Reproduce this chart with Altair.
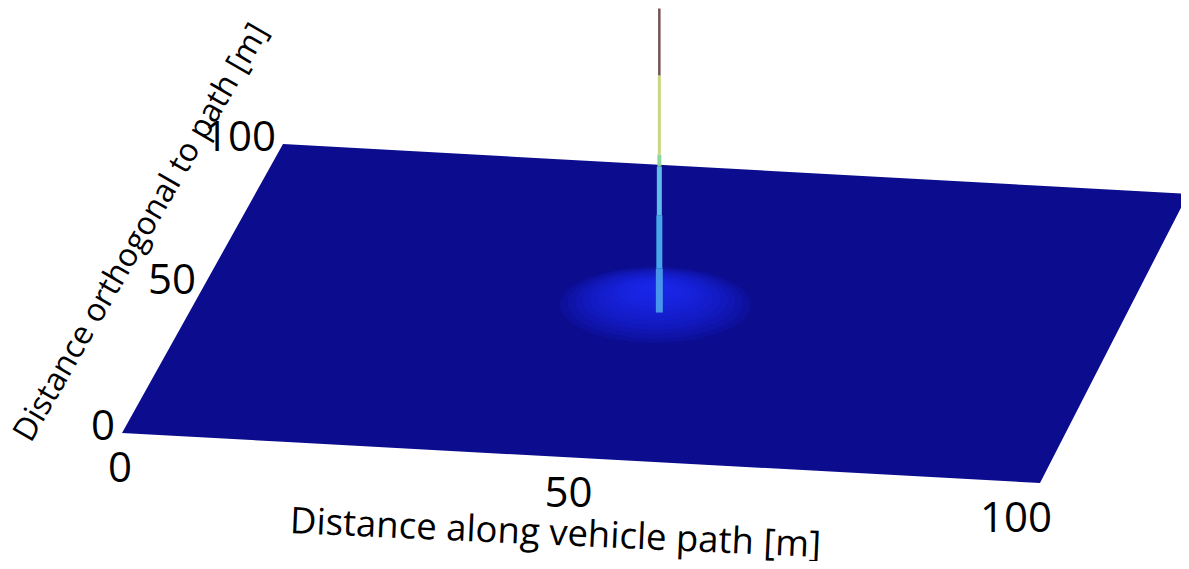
import numpy as np
import pandas as pd
import altair as alt

# ---- data -------------------------------------------------------------
# ground grid extent [m] (u: along vehicle path, v: orthogonal to path)
u_ticks = [0, 50, 100]
v_ticks = [0, 50, 100]
u_tick_labels = ["0", "50", "100"]
v_tick_labels = ["0", "50", "100"]
x_title = "Distance along vehicle path [m]"
y_title = "Distance orthogonal to path [m]"

# peak location on the ground plane [m]
peak_u = 50
peak_v = 50
# normalised height levels along the spike and colour of each band
spike_z = [0.0, 0.145, 0.32, 0.48, 0.52, 0.78, 1.0]
spike_band_colors = ["#4a9cec", "#4cb0f0", "#62c8ee", "#8ad49a", "#c6d47a", "#6e4a4a"]

# diffuse raised region around the peak: contour height and width [px]
glow_level = [0.025, 0.03, 0.035, 0.04, 0.045, 0.05, 0.055, 0.06, 0.065, 0.07, 0.075, 0.08]
glow_width = [190, 175, 160, 145, 130, 115, 100, 86, 72, 58, 44, 30]

# ---- camera (perspective view of the plane) ---------------------------
cam_u = [0, 100, 0, 100]
cam_v = [0, 0, 100, 100]
cam_px = [122, 1040, 283, 1188]
cam_py = [433, 483, 144, 194]
z_pixels = 304  # screen height of a unit of normalised z

A, b = [], []
for u, v, Xp, Yp in zip(cam_u, cam_v, cam_px, cam_py):
    A.append([u, v, 1, 0, 0, 0, -u * Xp, -v * Xp]); b.append(Xp)
    A.append([0, 0, 0, u, v, 1, -u * Yp, -v * Yp]); b.append(Yp)
h = np.linalg.solve(np.array(A, float), np.array(b, float))


def project(u, v, z=0.0):
    d = h[6] * u + h[7] * v + 1
    return (h[0] * u + h[1] * v + h[2]) / d, (h[3] * u + h[4] * v + h[5]) / d - z * z_pixels


# ---- plane as an area between its upper and lower outline ------------
p00, p10, p01, p11 = project(0, 0), project(100, 0), project(0, 100), project(100, 100)


def line_y(pa, pb, x):
    return pa[1] + (pb[1] - pa[1]) * (x - pa[0]) / (pb[0] - pa[0])


xs = sorted([p00[0], p01[0], p10[0], p11[0]])
rows = []
for x in xs:
    top = line_y(p00, p01, x) if x <= p01[0] else line_y(p01, p11, x)
    bot = line_y(p00, p10, x) if x <= p10[0] else line_y(p10, p11, x)
    rows.append({"px": x, "top": top, "bot": bot})
plane_df = pd.DataFrame(rows)

X = alt.X("px:Q", scale=alt.Scale(domain=[8, 1181], nice=False, zero=False), axis=None)
Yscale = alt.Scale(domain=[8, 561], reverse=True, nice=False, zero=False)

plane = alt.Chart(plane_df).mark_area(color="#0b0c8e", clip=True).encode(
    x=X, y=alt.Y("top:Q", scale=Yscale, axis=None), y2="bot:Q"
)

# ---- glow ellipses ----------------------------------------------------
theta = np.linspace(0, 2 * np.pi, 64, endpoint=False)
ell_path = "M" + " L".join(f"{np.cos(t):.3f},{0.40 * np.sin(t):.3f}" for t in theta) + " Z"
gx, gy = project(peak_u, peak_v)
glow_df = pd.DataFrame({
    "px": [gx - 4] * len(glow_level),
    "py": [gy - z * z_pixels for z in glow_level],
    "s": [w * w for w in glow_width],
})
glow = alt.Chart(glow_df).mark_point(
    shape=ell_path, filled=True, color="#1c2cff", opacity=0.13, strokeWidth=0
).encode(
    x=X, y=alt.Y("py:Q", scale=Yscale, axis=None),
    size=alt.Size("s:Q", scale=None, legend=None),
)

# ---- spike -------------------------------------------------------------
sx, sy = project(peak_u, peak_v)
spike_df = pd.DataFrame({
    "px": [sx] * (len(spike_z) - 1),
    "y0": [sy - z * z_pixels for z in spike_z[:-1]],
    "y1": [sy - z * z_pixels for z in spike_z[1:]],
    "col": spike_band_colors,
    "w": [7, 6, 5, 4, 3, 2.5],
})
spike = alt.Chart(spike_df).mark_rule(opacity=0.95).encode(
    x=X, y=alt.Y("y0:Q", scale=Yscale, axis=None), y2="y1:Q",
    color=alt.Color("col:N", scale=None, legend=None),
    size=alt.Size("w:Q", scale=None, legend=None),
)

# ---- tick labels ---------------------------------------------------------
FONT = "Open Sans"
left_lab = pd.DataFrame({
    "px": [project(0, v)[0] - 7 for v in v_ticks],
    "py": [project(0, v)[1] + 7 for v in v_ticks],
    "t": v_tick_labels,
})
bot_lab = pd.DataFrame({
    "px": [project(u, 0)[0] - 2 - 0.22 * u for u in u_ticks],
    "py": [project(u, 0)[1] + 49 for u in u_ticks],
    "t": u_tick_labels,
})
left_text = alt.Chart(left_lab).mark_text(
    font=FONT, fontSize=42, align="right", baseline="alphabetic", color="black"
).encode(x=X, y=alt.Y("py:Q", scale=Yscale, axis=None), text="t:N")
bot_text = alt.Chart(bot_lab).mark_text(
    font=FONT, fontSize=42, align="center", baseline="alphabetic", color="black"
).encode(x=X, y=alt.Y("py:Q", scale=Yscale, axis=None), text="t:N")

# ---- axis titles ---------------------------------------------------------
bx, by = project(50, 0)
lx, ly = project(0, 50)
btitle_df = pd.DataFrame({"px": [bx - 26], "py": [by + 76], "t": [x_title]})
ltitle_df = pd.DataFrame({"px": [lx - 62], "py": [ly - 55], "t": [y_title]})
btitle = alt.Chart(btitle_df).mark_text(
    font=FONT, fontSize=36.5, align="center", baseline="middle", angle=2.6, color="black"
).encode(x=X, y=alt.Y("py:Q", scale=Yscale, axis=None), text="t:N")
ltitle = alt.Chart(ltitle_df).mark_text(
    font=FONT, fontSize=32, align="center", baseline="middle", angle=300, color="black"
).encode(x=X, y=alt.Y("py:Q", scale=Yscale, axis=None), text="t:N")

chart = alt.layer(plane, glow, spike, left_text, bot_text, btitle, ltitle).properties(
    width=1173, height=553, padding=0, autosize=alt.AutoSizeParams(type="none"),
    background="white",
).configure_view(stroke=None)

chart.save("out.html", embed_options={"renderer": "svg", "actions": False})
